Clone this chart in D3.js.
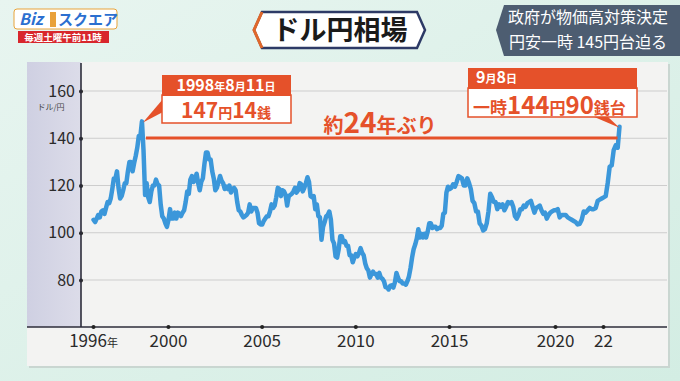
<!DOCTYPE html>
<html>
<head>
<meta charset="utf-8">
<script src="https://cdn.jsdelivr.net/npm/d3@7"></script>
<style>
  html, body { margin: 0; padding: 0; background: #dcefe8; }
  svg { display: block; font-family: "Noto Sans CJK JP", "Noto Sans", sans-serif; }
</style>
</head>
<body>
<svg id="chart" width="680" height="381"></svg>
<script>
// monthly USD/JPY (mid-month), Jan of first year onward
var rates1996_2003 = [
  105.5,104.5,106,107.5,106.5,109,109.5,108,110.5,113,112.5,114.5,
  118.5,123,123,126,119,114.5,115.5,118,121,121,126,130,
  130,126,129.5,132.5,136,141,141,147.14,135,116,121,115,
  113,117.5,120,120,122.5,120.5,120,112,107,106,104,102.5,
  105.5,110,106,106,108.5,106,108.5,108,107,108.5,109.5,113,
  117.5,116.5,122.5,124,121.5,122.5,125,121,118,121.5,123,129,
  134,134,131,131,126,123,118,119,121.5,124,122,121,
  118.5,119.5,118.5,120,117,118.5,119,118,113,109.5,109,107.5
];
var rates2004_2012 = [
  106.5,107,107.5,108.5,112,109,110.5,110.5,110.5,108.5,104,103.5,
  103.5,105,106,107,107,109,112,110.5,111.5,115,119,118.5,
  115.5,118,117.5,116,111.5,115.5,116,116.5,117.5,119,117,118,
  121,120.5,117.5,119,121,123.5,121.5,115.5,115,115.5,110,112,
  107,106.5,97,102.5,104.5,107,107.5,109,105.5,97,95.5,90,
  89.5,93,98.5,98.5,96,96.5,94.5,94.5,90.5,90.5,87.5,89.5,
  91,90,91.5,93.5,91.5,90.5,87,85,84,81,82.5,83.5,
  82.5,82.5,81,83,81,80.5,79.5,77,76.8,76,77.5,77.8,
  76.8,79,83,81,79.5,79.5,78.5,78.5,78,79.5,81.5,85
];
var rates2013_2022 = [
  89.5,93,95,97.5,101.5,98,99.5,98,99.5,98,100.5,104,
  104,102,102.5,102.5,101.5,102,102,103,108,108.5,117,119.5,
  118.5,119,120.5,119.5,121.5,124,123.5,123,120,120,123,121,
  118.5,113.5,112.5,109,109,104,103,101,101.5,104,109,116.5,
  115,113,113,110,112,111,112,109.5,111,113,112.5,113,
  111,107,106,107.5,110,110,111.5,111,112.5,113,113.5,111,
  108.5,110.5,111,111.5,109.5,108,108.5,106,107.5,108.5,109,109.5,
  109.5,110,106.5,107.5,107.5,107.5,106.5,106,105.5,105,104.5,103.5,
  103.8,105.5,109,108.5,109.5,110.5,110,110,110.5,113.5,114,114.5,
  115,115.5,121,128,128.5,135,137,136
];
var firstYear = 1996;
var lastDate = 2022 + 8.25 / 12;   // 2022-09-08
var lastRate = 144.9;

var yTicks = [80, 100, 120, 140, 160];
var xTicks = [1996, 2000, 2005, 2010, 2015, 2020, 2022];
var xTickLabels = ["1996", "2000", "2005", "2010", "2015", "2020", "22"];

var rates = rates1996_2003.concat(rates2004_2012, rates2013_2022);
var series = rates.map(function(v, i) {
    return { t: firstYear + (i + 0.35) / 12, v: v };
});
series.push({ t: lastDate, v: lastRate });

var svg = d3.select("#chart");
var red = "#e5512a";

// background
var defs = svg.append("defs");
var bg = defs.append("linearGradient").attr("id", "bg").attr("x1", 0).attr("y1", 0).attr("x2", 1).attr("y2", 1);
bg.append("stop").attr("offset", "0%").attr("stop-color", "#e8f5f0");
bg.append("stop").attr("offset", "100%").attr("stop-color", "#d3ede3");
svg.append("rect").attr("width", 680).attr("height", 381).attr("fill", "url(#bg)");

var lav = defs.append("linearGradient").attr("id", "lav").attr("x1", 0).attr("y1", 0).attr("x2", 1).attr("y2", 0);
lav.append("stop").attr("offset", "0%").attr("stop-color", "#cfd0e2");
lav.append("stop").attr("offset", "100%").attr("stop-color", "#dcdce9");

// panel
svg.append("rect").attr("x", 29).attr("y", 64).attr("width", 641).attr("height", 304).attr("fill", "#c9d6d1");
svg.append("rect").attr("x", 27).attr("y", 62).attr("width", 641).attr("height", 304).attr("fill", "#f3f3f2");
svg.append("rect").attr("x", 27).attr("y", 62).attr("width", 54).attr("height", 265).attr("fill", "url(#lav)");

// scales
var x = d3.scaleLinear().domain([1996, 2015, 2020, 2022]).range([93, 449, 555, 603]);
var y = d3.scaleLinear().domain([80, 160]).range([280, 91]);

// grid
svg.append("g").selectAll("line").data(yTicks).enter().append("line")
    .attr("x1", 81).attr("x2", 667)
    .attr("y1", function(d) { return y(d); }).attr("y2", function(d) { return y(d); })
    .attr("stroke", "#cdcdcd").attr("stroke-width", 1);

// y axis
var yAxis = svg.append("g").attr("transform", "translate(81,0)")
    .call(d3.axisLeft(y).tickValues(yTicks).tickSize(0).tickPadding(6));
yAxis.select(".domain").remove();
yAxis.selectAll("text").attr("font-size", 16).attr("fill", "#2a2a2a").attr("font-family", "Noto Sans CJK JP");
yAxis.selectAll(".tick").append("circle").attr("r", 2).attr("fill", "#222");
svg.append("line").attr("x1", 81).attr("x2", 81).attr("y1", 63).attr("y2", 327)
    .attr("stroke", "#2c2c3a").attr("stroke-width", 1.6);
svg.append("text").attr("x", 51).attr("y", 110).attr("text-anchor", "middle")
    .attr("font-size", 8).attr("fill", "#444").text("ドル/円");

// x axis
svg.append("line").attr("x1", 27).attr("x2", 667).attr("y1", 327).attr("y2", 327)
    .attr("stroke", "#2c2c3a").attr("stroke-width", 1.6);
var xAxis = svg.append("g").attr("transform", "translate(0,327)")
    .call(d3.axisBottom(x).tickValues(xTicks).tickSize(0).tickPadding(8)
        .tickFormat(function(d, i) { return xTickLabels[i]; }));
xAxis.select(".domain").remove();
xAxis.selectAll("text").attr("font-size", 17).attr("fill", "#2a2a2a").attr("font-family", "Noto Sans CJK JP");
xAxis.selectAll(".tick").append("circle").attr("r", 2).attr("fill", "#222");
xAxis.selectAll(".tick").filter(function(d) { return d === 1996; }).select("text")
    .append("tspan").attr("font-size", 11).text("年");

// line
var line = d3.line().x(function(d) { return x(d.t); }).y(function(d) { return y(d.v); });
svg.append("path").datum(series).attr("d", line)
    .attr("fill", "none").attr("stroke", "#3b97da").attr("stroke-width", 4.5)
    .attr("stroke-linejoin", "round").attr("stroke-linecap", "round");

// 24 years line
var peak = series[31];
var last = series[series.length - 1];
svg.append("line").attr("x1", x(peak.t) + 4).attr("x2", x(last.t) - 2)
    .attr("y1", 138).attr("y2", 138).attr("stroke", red).attr("stroke-width", 3);
var t24 = svg.append("text").attr("x", 380).attr("y", 133).attr("text-anchor", "middle")
    .attr("fill", red).attr("font-weight", "bold");
t24.append("tspan").attr("font-size", 20).text("約");
t24.append("tspan").attr("font-size", 28).text("24");
t24.append("tspan").attr("font-size", 20).text("年ぶり");

// callout 1
svg.append("polygon")
    .attr("points", [[163, 99], [163, 112], [x(peak.t) + 1, y(peak.v) + 1]].join(" "))
    .attr("fill", red);
svg.append("rect").attr("x", 162).attr("y", 95).attr("width", 129).attr("height", 28)
    .attr("fill", "#fff").attr("stroke", red).attr("stroke-width", 1.5);
svg.append("rect").attr("x", 162).attr("y", 75).attr("width", 129).attr("height", 21).attr("fill", red);
var c1a = svg.append("text").attr("x", 226).attr("y", 91).attr("text-anchor", "middle")
    .attr("fill", "#fff").attr("font-weight", "bold");
c1a.append("tspan").attr("font-size", 16).text("1998");
c1a.append("tspan").attr("font-size", 11).text("年");
c1a.append("tspan").attr("font-size", 16).text("8");
c1a.append("tspan").attr("font-size", 11).text("月");
c1a.append("tspan").attr("font-size", 16).text("11");
c1a.append("tspan").attr("font-size", 11).text("日");
var c1b = svg.append("text").attr("x", 226).attr("y", 118).attr("text-anchor", "middle")
    .attr("fill", red).attr("font-weight", "bold");
c1b.append("tspan").attr("font-size", 21).text("147");
c1b.append("tspan").attr("font-size", 14).text("円");
c1b.append("tspan").attr("font-size", 21).text("14");
c1b.append("tspan").attr("font-size", 14).text("銭");

// callout 2
svg.append("polygon")
    .attr("points", [[592, 116], [607, 116], [x(last.t), y(last.v) + 1]].join(" "))
    .attr("fill", red);
svg.append("rect").attr("x", 468).attr("y", 88).attr("width", 169).attr("height", 29)
    .attr("fill", "#fff").attr("stroke", red).attr("stroke-width", 1.5);
svg.append("rect").attr("x", 468).attr("y", 68).attr("width", 169).attr("height", 21).attr("fill", red);
var c2a = svg.append("text").attr("x", 476).attr("y", 83).attr("fill", "#fff").attr("font-weight", "bold");
c2a.append("tspan").attr("font-size", 16).text("9");
c2a.append("tspan").attr("font-size", 11).text("月");
c2a.append("tspan").attr("font-size", 16).text("8");
c2a.append("tspan").attr("font-size", 11).text("日");
var c2b = svg.append("text").attr("x", 473).attr("y", 114).attr("fill", red).attr("font-weight", "bold");
c2b.append("tspan").attr("font-size", 17).text("一時");
c2b.append("tspan").attr("font-size", 24).text("144");
c2b.append("tspan").attr("font-size", 16).text("円");
c2b.append("tspan").attr("font-size", 24).text("90");
c2b.append("tspan").attr("font-size", 16).text("銭台");

// title
svg.append("polygon").attr("points", "262,12 417,12 425,30 417,48 262,48 254,30")
    .attr("fill", "#fff").attr("stroke", "#2d3a66").attr("stroke-width", 2.5);
svg.append("polyline").attr("points", "262,12 254,30 262,48")
    .attr("fill", "none").attr("stroke", "#e0672a").attr("stroke-width", 3);
svg.append("text").attr("x", 340).attr("y", 40).attr("text-anchor", "middle")
    .attr("font-size", 27).attr("font-weight", "bold").attr("fill", "#1a1a1a").text("ドル円相場");

// headline box
svg.append("polygon").attr("points", "504,5 680,5 680,56 504,56 496,30")
    .attr("fill", "#44546a").attr("opacity", 0.95);
svg.append("text").attr("x", 588).attr("y", 23).attr("text-anchor", "middle")
    .attr("font-size", 16).attr("fill", "#fff").text("政府が物価高対策決定");
svg.append("text").attr("x", 588).attr("y", 48).attr("text-anchor", "middle")
    .attr("font-size", 16).attr("fill", "#fff").text("円安一時 145円台迫る");

// logo
svg.append("rect").attr("x", 14).attr("y", 9).attr("width", 103).attr("height", 20).attr("rx", 3)
    .attr("fill", "#fff").attr("stroke", "#e8a33a").attr("stroke-width", 1);
svg.append("text").attr("x", 19).attr("y", 25).attr("font-size", 16).attr("font-weight", "bold")
    .attr("font-style", "italic").attr("fill", "#2b6fd0").text("Biz");
svg.append("rect").attr("x", 50).attr("y", 12).attr("width", 6).attr("height", 15).attr("fill", "#e9a13a");
svg.append("text").attr("x", 58).attr("y", 25).attr("font-size", 15).attr("font-weight", "bold")
    .attr("fill", "#2b6fd0").text("スクエア");
svg.append("rect").attr("x", 18).attr("y", 31).attr("width", 91).attr("height", 12).attr("fill", "#d8262c");
svg.append("text").attr("x", 63).attr("y", 41).attr("text-anchor", "middle")
    .attr("font-size", 9.5).attr("font-weight", "bold").attr("fill", "#fff").text("毎週土曜午前11時");
</script>
</body>
</html>
